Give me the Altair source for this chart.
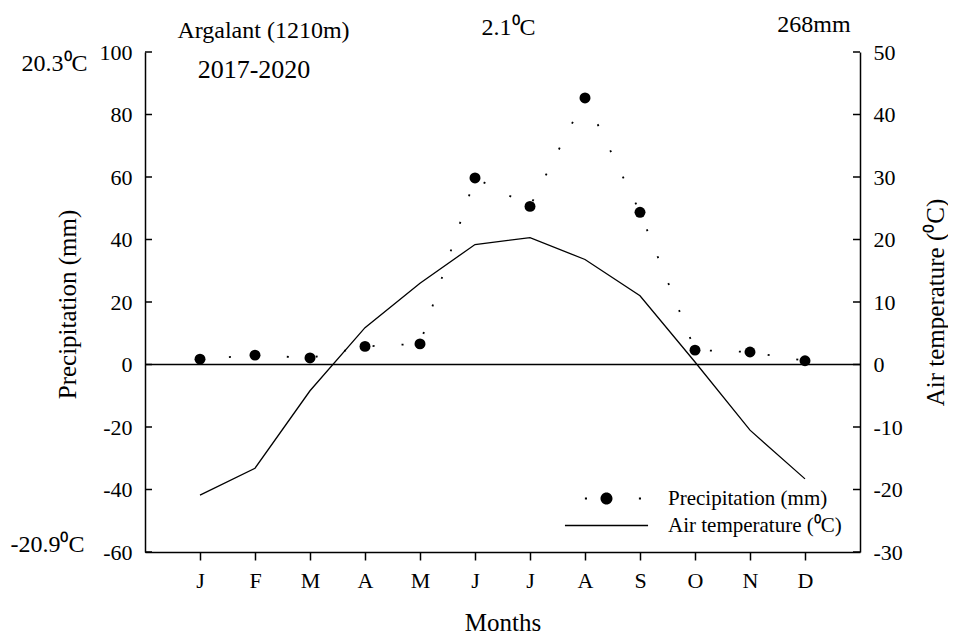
import altair as alt
import pandas as pd

# ---------------- data ----------------
months = ["J", "F", "M", "A", "M", "J", "J", "A", "S", "O", "N", "D"]
month_index = list(range(1, 13))
precipitation = [1.7, 3.0, 2.1, 5.8, 6.6, 59.7, 50.6, 85.3, 48.7, 4.6, 4.0, 1.2]
temperature = [-20.9, -16.6, -4.2, 5.9, 13.0, 19.2, 20.3, 16.8, 11.0, 0.4, -10.5, -18.3]
precip_ticks = list(range(-60, 101, 20))
temp_ticks = list(range(-30, 51, 10))

station = "Argalant (1210m)"
period = "2017-2020"
max_temp_label = "20.3\u2070C"
min_temp_label = "-20.9\u2070C"
mean_temp_label = "2.1\u2070C"
total_precip_label = "268mm"
series_names = ["Precipitation (mm)", "Air temperature (\u2070C)"]

FONT = "Liberation Serif"
TICK_FS = 22
TITLE_FS = 25
ANN_FS = 24

df = pd.DataFrame({"m": month_index, "month": months,
                   "precip": precipitation, "temp": temperature})
zero_df = pd.DataFrame({"precip": [0]})
ptick_df = pd.DataFrame({"precip": precip_ticks})
ttick_df = pd.DataFrame({"temp": temp_ticks})
legend_df = pd.DataFrame({"m": [None, None], "precip": [None, None],
                          "series": series_names})

label_expr = "[" + ",".join(f"'{m}'" for m in months) + "][datum.value - 1]"
num_expr = "'' + datum.value"

x_enc = alt.X(
    "m:Q",
    scale=alt.Scale(domain=[0, 13], nice=False, zero=False),
    axis=alt.Axis(values=month_index, labelExpr=label_expr, title="Months",
                  tickSize=8, labelPadding=20, labelBaseline="middle",
                  labelFont=FONT, labelFontSize=TICK_FS, labelColor="black",
                  titleFont=FONT, titleFontSize=TITLE_FS, titleFontWeight="normal",
                  titleColor="black", titleX=357.5, titleY=70,
                  titleBaseline="middle", grid=False,
                  domainColor="black", domainWidth=1.5,
                  tickColor="black", tickWidth=1.5),
)

y_precip = alt.Y(
    "precip:Q",
    scale=alt.Scale(domain=[-60, 100], nice=False, zero=False),
    axis=alt.Axis(values=precip_ticks, labelExpr=num_expr,
                  title=series_names[0], orient="left",
                  ticks=False, labelPadding=13,
                  labelFont=FONT, labelFontSize=TICK_FS, labelColor="black",
                  titleFont=FONT, titleFontSize=TITLE_FS, titleFontWeight="normal",
                  titleColor="black", titleX=-78, titleY=252,
                  titleBaseline="middle", titleAlign="center", titleAngle=270,
                  grid=False, domainColor="black", domainWidth=1.5),
)

y_temp = alt.Y(
    "temp:Q",
    scale=alt.Scale(domain=[-30, 50], nice=False, zero=False),
    axis=alt.Axis(values=temp_ticks, labelExpr=num_expr,
                  title=series_names[1], orient="right",
                  ticks=False, labelPadding=13,
                  labelFont=FONT, labelFontSize=TICK_FS, labelColor="black",
                  titleFont=FONT, titleFontSize=TITLE_FS, titleFontWeight="normal",
                  titleColor="black", titleX=75, titleY=250,
                  titleBaseline="middle", titleAlign="center", titleAngle=270,
                  grid=False, domainColor="black", domainWidth=1.5),
)

# legend symbols (custom paths, unit = sqrt(symbolSize)/2 = 15 px)
precip_symbol = ("M-1.44,-0.067H-1.3V0.067H-1.44Z "
                 "M2.16,-0.067H2.3V0.067H2.16Z "
                 "M0.4,0A0.4,0.4,0,1,1,-0.4,0A0.4,0.4,0,1,1,0.4,0Z")
temp_symbol = "M-2.77,-0.045H2.77V0.045H-2.77Z"

base = alt.Chart(df)

zero_rule = alt.Chart(zero_df).mark_rule(color="black", strokeWidth=1.5).encode(y=y_precip)

# inward ticks of the left axis
left_ticks = alt.Chart(ptick_df).mark_rule(color="black", strokeWidth=1.5).encode(
    y=y_precip, x=alt.value(0), x2=alt.value(7))

precip_line = base.mark_line(color="black", strokeWidth=1.8,
                             strokeDash=[2, 27], strokeCap="butt").encode(x=x_enc, y=y_precip)

precip_pts = base.mark_point(filled=True, color="black", size=120, opacity=1).encode(
    x=x_enc, y=y_precip)

legend_layer = alt.Chart(legend_df).mark_point(filled=True, color="black", opacity=1).encode(
    x=x_enc, y=y_precip,
    shape=alt.Shape("series:N",
                    scale=alt.Scale(domain=series_names, range=[precip_symbol, temp_symbol]),
                    legend=alt.Legend(orient="none", legendX=446.5, legendY=431.5,
                                      title=None, symbolSize=900, labelOffset=46.5,
                                      labelFont=FONT, labelFontSize=21, labelColor="black",
                                      labelLimit=0, padding=0, rowPadding=2,
                                      symbolFillColor="black", symbolStrokeWidth=0)),
)


def note(text, x, y, size=ANN_FS):
    return alt.Chart(pd.DataFrame({"t": [text]})).mark_text(
        font=FONT, fontSize=size, color="black", align="center", baseline="middle"
    ).encode(x=alt.value(x), y=alt.value(y), text="t:N")


notes = [
    note(max_temp_label, -90.5, 11.5),
    note(min_temp_label, -97.5, 493),
    note(station, 118.5, -21),
    note(period, 109, 18, 26),
    note(mean_temp_label, 363.5, -24),
    note(total_precip_label, 669, -27),
]

left = alt.layer(zero_rule, left_ticks, precip_line, precip_pts, legend_layer, *notes)

temp_line = base.mark_line(color="black", strokeWidth=1.3).encode(x=x_enc, y=y_temp)
right_ticks = alt.Chart(ttick_df).mark_rule(color="black", strokeWidth=1.5).encode(
    y=y_temp, x=alt.value(715), x2=alt.value(708))

right = alt.layer(temp_line, right_ticks)

chart = alt.layer(left, right).resolve_scale(y="independent").properties(
    width=715, height=500,
    padding={"left": 137, "top": 44, "right": 88, "bottom": 83},
    autosize=alt.AutoSizeParams(type="none"),
).configure_view(stroke=None)

chart.save("out.html", embed_options={"renderer": "svg", "actions": False})
